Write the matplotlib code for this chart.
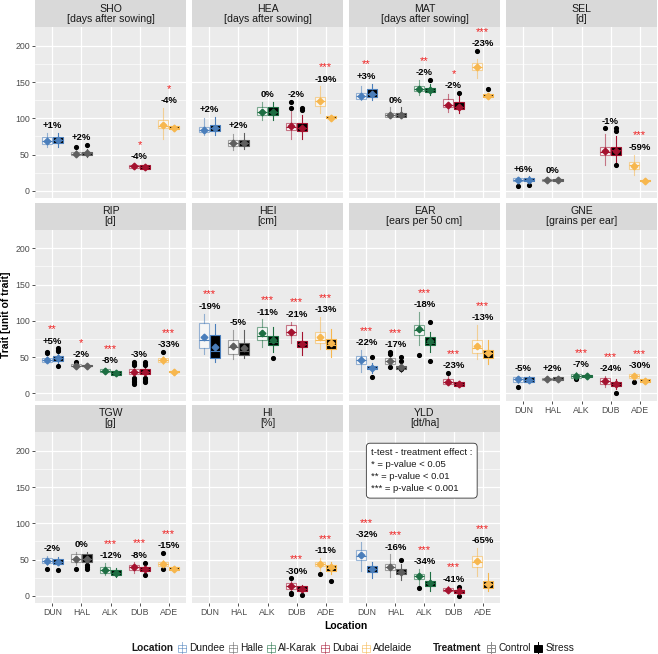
import matplotlib
matplotlib.use('Agg')
import matplotlib.pyplot as plt
from matplotlib.patches import Rectangle
from matplotlib.lines import Line2D
from matplotlib.colors import to_rgba

plt.rcParams['font.family'] = ['Liberation Sans', 'DejaVu Sans']

loc_codes = ['DUN', 'HAL', 'ALK', 'DUB', 'ADE']
loc_names = ['Dundee', 'Halle', 'Al-Karak', 'Dubai', 'Adelaide']
loc_colors = ['#4A7EBB', '#5F5F5F', '#1D6E42', '#A4122F', '#F7B74E']

traits = ['SHO', 'HEA', 'MAT', 'SEL', 'RIP', 'HEI', 'EAR', 'GNE', 'TGW', 'HI', 'YLD']
units = ['days after sowing', 'days after sowing', 'days after sowing', 'd', 'd', 'cm',
         'ears per 50 cm', 'grains per ear', 'g', '%', 'dt/ha']

# box stats per location: (whisker low, q1, median, q3, whisker high, mean)
sho_ctrl = [(60, 65, 68, 74, 80, 68), (47, 49, 51, 54, 58, 51), None, (31, 32, 34, 36, 37, 34), (72, 87, 90, 98, 114, 91)]
sho_strs = [(60, 66, 70, 74, 80, 70), (47, 49, 52, 54, 58, 52), None, (29, 30, 33, 36, 37, 33), (83, 85, 87, 89, 91, 87)]
sho_fl_c = [[], [61], [], [], []]
sho_fl_s = [[], [63], [], [], []]
sho_pct = ['+1%', '+2%', None, '-4%', '-4%']
sho_sig = ['', '', '', '*', '*']

hea_ctrl = [(77, 81, 84, 88, 100, 84), (56, 62, 66, 70, 79, 66), (98, 105, 109, 115, 123, 109), (72, 84, 88, 94, 111, 89), (107, 117, 124, 130, 144, 124)]
hea_strs = [(77, 82, 86, 91, 102, 86), (57, 62, 66, 70, 80, 66), (98, 105, 109, 115, 123, 109), (72, 83, 86, 93, 105, 87), (99, 100, 101, 103, 104, 101)]
hea_fl_c = [[], [], [], [114, 123], []]
hea_fl_s = [[], [], [], [112, 114], []]
hea_pct = ['+2%', '+2%', '0%', '-2%', '-19%']
hea_sig = ['', '', '', '', '***']

mat_ctrl = [(125, 127, 131, 135, 144, 131), (100, 102, 105, 107, 115, 105), (132, 138, 141, 144, 153, 141), (109, 115, 119, 126, 134, 119), (155, 166, 171, 176, 182, 171)]
mat_strs = [(125, 130, 134, 140, 148, 134), (100, 102, 105, 107, 115, 105), (132, 136, 139, 142, 147, 139), (108, 113, 116, 122, 134, 116), (129, 130, 131, 133, 134, 131)]
mat_fl_c = [[], [], [], [], [193]]
mat_fl_s = [[], [], [153], [135], [140]]
mat_pct = ['+3%', '0%', '-2%', '-2%', '-23%']
mat_sig = ['**', '', '**', '*', '***']

sel_ctrl = [(10, 13, 15, 17, 19, 15), (12, 13, 15, 16, 18, 15), None, (36, 50, 54, 61, 79, 55), (22, 30, 35, 39, 50, 34)]
sel_strs = [(10, 13, 15, 18, 20, 15), (12, 13, 15, 16, 18, 15), None, (40, 50, 56, 61, 75, 55), (12, 13, 14, 15, 16, 14)]
sel_fl_c = [[6], [], [], [86], []]
sel_fl_s = [[8], [], [], [35, 82, 86], []]
sel_pct = ['+6%', '0%', None, '-1%', '-59%']
sel_sig = ['', '', '', '', '***']

rip_ctrl = [(42, 43, 46, 48, 52, 46), (36, 37, 38, 40, 41, 38), (28, 29, 31, 33, 35, 31), (24, 27, 30, 33, 36, 30), (40, 43, 46, 48, 52, 46)]
rip_strs = [(42, 45, 48, 51, 56, 48), (35, 37, 38, 39, 40, 38), (24, 25, 28, 31, 32, 28), (24, 27, 30, 33, 36, 30), (28, 29, 30, 31, 32, 30)]
rip_fl_c = [[55, 57], [43], [], [13, 15, 17, 19, 21, 39, 41, 43], [57]]
rip_fl_s = [[38, 58, 60, 62], [], [], [15, 17, 19, 21, 39, 41, 43], []]
rip_pct = ['+5%', '-2%', '-8%', '-3%', '-33%']
rip_sig = ['**', '*', '***', '', '***']

hei_ctrl = [(54, 62, 73, 97, 110, 78), (47, 54, 64, 73, 87, 65), (64, 74, 79, 91, 102, 83), (70, 80, 85, 94, 99, 85), (61, 70, 74, 84, 105, 78)]
hei_strs = [(43, 48, 58, 81, 96, 64), (48, 53, 58, 70, 87, 62), (57, 67, 71, 79, 91, 73), (53, 64, 68, 72, 84, 68), (50, 61, 66, 75, 88, 69)]
hei_fl_c = [[], [], [], [], []]
hei_fl_s = [[], [], [48], [], []]
hei_pct = ['-19%', '-5%', '-11%', '-21%', '-13%']
hei_sig = ['***', '', '***', '***', '***']

ear_ctrl = [(29, 41, 46, 52, 60, 46), (38, 41, 44, 48, 52, 44), (66, 81, 87, 94, 112, 88), (11, 13, 16, 20, 25, 16), (47, 56, 62, 73, 94, 65)]
ear_strs = [(28, 33, 35, 38, 42, 35), (30, 34, 36, 38, 41, 36), (57, 66, 70, 77, 84, 72), (9, 10, 13, 15, 17, 13), (41, 49, 55, 60, 74, 55)]
ear_fl_c = [[], [36, 54, 57], [53], [28], []]
ear_fl_s = [[22, 50], [33, 45, 50], [45, 99], [], []]
ear_pct = ['-22%', '-17%', '-18%', '-23%', '-13%']
ear_sig = ['***', '***', '***', '***', '***']

gne_ctrl = [(14, 16, 19, 22, 24, 19), (16, 18, 20, 21, 23, 20), (20, 21, 24, 27, 29, 24), (9, 13, 17, 21, 24, 17), (19, 21, 24, 27, 28, 24)]
gne_strs = [(14, 16, 18, 22, 24, 18), (16, 18, 20, 22, 24, 20), (20, 22, 24, 25, 27, 24), (6, 10, 13, 16, 19, 13), (14, 15, 17, 19, 21, 17)]
gne_fl_c = [[9], [], [19], [], [16]]
gne_fl_s = [[], [], [], [0], []]
gne_pct = ['-5%', '+2%', '-7%', '-24%', '-30%']
gne_sig = ['', '', '***', '***', '***']

tgw_ctrl = [(42, 45, 48, 52, 55, 48), (43, 47, 51, 57, 61, 51), (29, 32, 35, 40, 45, 35), (32, 36, 39, 43, 46, 39), (38, 41, 44, 47, 50, 44)]
tgw_strs = [(42, 44, 47, 51, 54, 47), (43, 47, 51, 57, 61, 51), (26, 29, 31, 36, 38, 31), (31, 34, 37, 40, 43, 37), (34, 35, 37, 39, 41, 37)]
tgw_fl_c = [[37], [37], [], [], [37, 59]]
tgw_fl_s = [[36], [37, 40, 43], [], [29, 45], []]
tgw_pct = ['-2%', '0%', '-12%', '-8%', '-15%']
tgw_sig = ['', '', '***', '***', '***']

hi_ctrl = [None, None, None, (6, 10, 13, 17, 21, 14), (33, 41, 44, 47, 52, 44)]
hi_strs = [None, None, None, (4, 7, 10, 13, 15, 10), (30, 34, 38, 43, 47, 39)]
hi_fl_c = [[], [], [], [2, 4, 24], [30]]
hi_fl_s = [[], [], [], [1], [21]]
hi_pct = [None, None, None, '-30%', '-11%']
hi_sig = ['', '', '', '***', '***']

yld_ctrl = [(34, 49, 55, 63, 74, 56), (26, 36, 40, 44, 57, 40), (15, 23, 27, 30, 37, 27), (4, 6, 8, 11, 13, 8), (27, 40, 46, 55, 66, 48)]
yld_strs = [(24, 33, 37, 41, 47, 37), (22, 30, 33, 37, 44, 33), (6, 14, 18, 21, 33, 18), (2, 4, 6, 8, 10, 6), (6, 11, 16, 21, 31, 16)]
yld_fl_c = [[], [], [11], [], []]
yld_fl_s = [[], [49], [], [0, 12], []]
yld_pct = ['-32%', '-16%', '-34%', '-41%', '-65%']
yld_sig = ['***', '***', '***', '***', '***']

all_ctrl = [sho_ctrl, hea_ctrl, mat_ctrl, sel_ctrl, rip_ctrl, hei_ctrl, ear_ctrl, gne_ctrl, tgw_ctrl, hi_ctrl, yld_ctrl]
all_strs = [sho_strs, hea_strs, mat_strs, sel_strs, rip_strs, hei_strs, ear_strs, gne_strs, tgw_strs, hi_strs, yld_strs]
all_fl_c = [sho_fl_c, hea_fl_c, mat_fl_c, sel_fl_c, rip_fl_c, hei_fl_c, ear_fl_c, gne_fl_c, tgw_fl_c, hi_fl_c, yld_fl_c]
all_fl_s = [sho_fl_s, hea_fl_s, mat_fl_s, sel_fl_s, rip_fl_s, hei_fl_s, ear_fl_s, gne_fl_s, tgw_fl_s, hi_fl_s, yld_fl_s]
all_pct = [sho_pct, hea_pct, mat_pct, sel_pct, rip_pct, hei_pct, ear_pct, gne_pct, tgw_pct, hi_pct, yld_pct]
all_sig = [sho_sig, hea_sig, mat_sig, sel_sig, rip_sig, hei_sig, ear_sig, gne_sig, tgw_sig, hi_sig, yld_sig]

W, H = 658, 654
fig = plt.figure(figsize=(W / 100, H / 100), dpi=100)


def frac(x, y, w, h):
    return [x / W, 1 - (y + h) / H, w / W, h / H]


def box_stats(t, fl):
    lo, q1, med, q3, hi, mean = t
    return dict(whislo=lo, q1=q1, med=med, q3=q3, whishi=hi, mean=mean, fliers=fl)


col_x = [35, 192, 349, 506]
row_y = [0, 202.5, 405]
pw, ph, sh = 151, 171, 27
dodge = 0.1875
lw = 0.8

for i, trait in enumerate(traits):
    r, c = divmod(i, 4)
    strip = fig.add_axes(frac(col_x[c], row_y[r], pw, sh))
    strip.set_facecolor('#D9D9D9')
    strip.set_xticks([])
    strip.set_yticks([])
    for s in strip.spines.values():
        s.set_visible(False)
    strip.text(0.5, 0.5, trait + '\n[' + units[i] + ']', ha='center', va='center',
               fontsize=7.6, color='#1A1A1A', linespacing=1.0, transform=strip.transAxes)

    ax = fig.add_axes(frac(col_x[c], row_y[r] + sh, pw, ph))
    ax.set_facecolor('#EBEBEB')
    for s in ax.spines.values():
        s.set_visible(False)

    for j in range(5):
        col = loc_colors[j]
        ctrl = all_ctrl[i][j]
        strs = all_strs[i][j]
        if ctrl is None:
            continue
        light = to_rgba(col, 0.55)
        ax.bxp([box_stats(ctrl, all_fl_c[i][j])], positions=[j + 1 - dodge], widths=0.33,
               patch_artist=True, showmeans=True, showcaps=False, manage_ticks=False,
               boxprops=dict(facecolor=(1, 1, 1, 0.6), edgecolor=light, lw=lw),
               medianprops=dict(color=col, lw=lw),
               whiskerprops=dict(color=light, lw=lw),
               meanprops=dict(marker='D', markerfacecolor=col, markeredgecolor=col, markersize=3.4),
               flierprops=dict(marker='o', markerfacecolor='black', markeredgecolor='black', markersize=2.7))
        ax.bxp([box_stats(strs, all_fl_s[i][j])], positions=[j + 1 + dodge], widths=0.33,
               patch_artist=True, showmeans=True, showcaps=False, manage_ticks=False,
               boxprops=dict(facecolor='black', edgecolor=col, lw=lw),
               medianprops=dict(color=col, lw=lw),
               whiskerprops=dict(color=col, lw=lw),
               meanprops=dict(marker='D', markerfacecolor=col, markeredgecolor=col, markersize=3.4),
               flierprops=dict(marker='o', markerfacecolor='black', markeredgecolor='black', markersize=2.7))

        top = max([ctrl[4], strs[4]] + all_fl_c[i][j] + all_fl_s[i][j])
        pct = all_pct[i][j]
        if pct:
            ax.text(j + 1, top + 10, pct, ha='center', va='center', fontsize=6.8,
                    fontweight='bold', color='black')
        if all_sig[i][j]:
            ax.text(j + 1, top + 26.5, all_sig[i][j], ha='center', va='center', fontsize=8,
                    color='#F02020')

    ax.set_xlim(0.4, 5.6)
    ax.set_ylim(-10, 226)
    ax.set_yticks([0, 50, 100, 150, 200])
    ax.set_yticks([25, 75, 125, 175], minor=True)
    ax.set_xticks(range(1, 6))
    ax.set_xticklabels(loc_codes)
    ax.set_xticks([], minor=True)
    ax.grid(True, which='major', color='white', lw=0.9)
    ax.grid(True, which='minor', axis='y', color='white', lw=0.45)
    ax.set_axisbelow(True)
    ax.tick_params(which='minor', length=0)
    ax.tick_params(which='major', length=2.2, width=0.6, color='#333333', labelcolor='#4D4D4D',
                   labelsize=6.3, pad=1.5)
    if c != 0:
        ax.tick_params(axis='y', left=False, labelleft=False)
    bottom = (r == 2) or (r == 1 and c == 3)
    if not bottom:
        ax.tick_params(axis='x', bottom=False, labelbottom=False)

    if trait == 'YLD':
        ax.text(1.16, 204, 't-test - treatment effect :\n* = p-value < 0.05\n'
                '** = p-value < 0.01\n*** = p-value < 0.001',
                ha='left', va='top', fontsize=6.8, color='#1A1A1A', linespacing=1.45,
                bbox=dict(boxstyle='round,pad=0.5,rounding_size=0.4', fc='white', ec='#333333', lw=0.6))

fig.text(6 / W, 1 - 315 / H, 'Trait [unit of trait]', rotation=90, ha='center', va='center',
         fontsize=7.5, fontweight='bold')
fig.text(346 / W, 1 - 626 / H, 'Location', ha='center', va='center', fontsize=7.5, fontweight='bold')

# legend row along the bottom
renderer = fig.canvas.get_renderer()
ly = 1 - 648 / H
xpos = [131.0]


def add_text(s, bold=False, gap=2.5):
    t = fig.text(xpos[0] / W, ly, s, ha='left', va='center', fontsize=7.3,
                 fontweight='bold' if bold else 'normal', color='#1A1A1A')
    xpos[0] += t.get_window_extent(renderer).width + gap


def add_key(edge, face):
    kx = xpos[0]
    cx = kx + 5
    fig.add_artist(Line2D([cx / W, cx / W], [ly - 6 / H, ly + 6 / H], color=edge, lw=0.7,
                          transform=fig.transFigure))
    fig.add_artist(Rectangle(((kx + 1) / W, ly - 3.5 / H), 8 / W, 7 / H, facecolor=face,
                             edgecolor=edge, lw=0.7, transform=fig.transFigure))
    fig.add_artist(Line2D([(kx + 1) / W, (kx + 9) / W], [ly, ly], color=edge, lw=0.7,
                          transform=fig.transFigure))
    xpos[0] += 12.5


add_text('Location', bold=True, gap=4)
for name, col in zip(loc_names, loc_colors):
    add_key(to_rgba(col, 0.55), 'white')
    add_text(name, gap=2.5)
xpos[0] += 18
add_text('Treatment', bold=True, gap=4)
add_key('#8A8A8A', 'white')
add_text('Control', gap=2.5)
add_key('black', 'black')
add_text('Stress')

fig.savefig('out.png', dpi=100)
